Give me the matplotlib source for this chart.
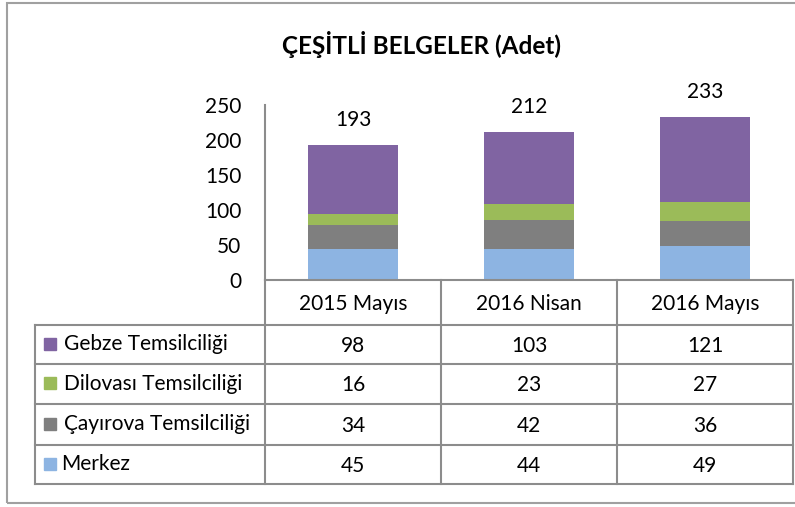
import matplotlib
matplotlib.use("Agg")
import matplotlib.pyplot as plt
from matplotlib.patches import Rectangle
import numpy as np

plt.rcParams['font.family'] = ['Lato', 'DejaVu Sans']

categories = ["2015 Mayıs", "2016 Nisan", "2016 Mayıs"]
series_names = ["Merkez", "Çayırova Temsilciliği", "Dilovası Temsilciliği", "Gebze Temsilciliği"]
merkez = [45, 44, 49]
cayirova = [34, 42, 36]
dilovasi = [16, 23, 27]
gebze = [98, 103, 121]
totals = [193, 212, 233]
colors = ["#8DB4E2", "#7F7F7F", "#9BBB59", "#8064A2"]
title = "ÇEŞİTLİ BELGELER (Adet)"
yticks = [0, 50, 100, 150, 200, 250]

W, H = 795, 507
fig = plt.figure(figsize=(W / 100, H / 100), dpi=100)

def fx(x):
    return x / W

def fy(y):
    return 1 - y / H

grid = "#8C8C8C"
FS = 15

# outer frame
fig.patches.append(Rectangle((fx(7), fy(503)), fx(800) - fx(7), fy(3) - fy(503),
                             transform=fig.transFigure, fill=False, edgecolor="#A0A0A0", lw=1.5))

# main axes
ax = fig.add_axes([fx(265), fy(280), fx(793) - fx(265), fy(105) - fy(280)])
x = np.arange(len(categories))
series = [merkez, cayirova, dilovasi, gebze]
bottom = np.zeros(len(categories))
for vals, col in zip(series, colors):
    ax.bar(x, vals, bottom=bottom, width=0.51, color=col, edgecolor="none")
    bottom += np.array(vals)
for xi, t in zip(x, totals):
    ax.annotate(str(t), (xi, t), xytext=(0, 18), textcoords="offset points",
                ha="center", va="center", fontsize=FS)
ax.set_xlim(-0.5, 2.5)
ax.set_ylim(0, 250)
ax.set_yticks(yticks)
ax.set_yticklabels([str(v) for v in yticks], fontsize=FS)
ax.tick_params(axis="y", length=0, pad=17)
ax.set_xticks([])
for s in ["top", "right", "bottom"]:
    ax.spines[s].set_visible(False)
ax.spines["left"].set_color(grid)
ax.spines["left"].set_linewidth(1.5)

# table axes
tax = fig.add_axes([fx(35), fy(484), fx(793) - fx(35), fy(280) - fy(484)])
tax.set_xlim(35, 793)
tax.set_ylim(484, 280)
tax.axis("off")
col_edges = [35, 265, 441, 617, 793]
row_edges = [280, 325, 364, 404, 445, 484]
lk = dict(color=grid, lw=1.5, clip_on=False)
tax.plot([265, 793], [280, 280], **lk)
for yy in row_edges[1:]:
    tax.plot([35, 793], [yy, yy], **lk)
for xx in col_edges[1:]:
    tax.plot([xx, xx], [280, 484], **lk)
tax.plot([35, 35], [325, 484], **lk)

for i, c in enumerate(categories):
    cx = (col_edges[i + 1] + col_edges[i + 2]) / 2
    tax.text(cx, (row_edges[0] + row_edges[1]) / 2 + 2, c, ha="center", va="center", fontsize=FS)

table_order = [3, 2, 1, 0]
for r, si in enumerate(table_order):
    cy = (row_edges[r + 1] + row_edges[r + 2]) / 2
    tax.add_patch(Rectangle((44, cy - 7), 12, 12, color=colors[si], clip_on=False))
    tax.text(64 if si != 0 else 61, cy, series_names[si], ha="left", va="center", fontsize=FS)
    for i in range(len(categories)):
        cx = (col_edges[i + 1] + col_edges[i + 2]) / 2
        tax.text(cx, cy + 1, str(series[si][i]), ha="center", va="center", fontsize=FS)

fig.text(fx(421), fy(45), title, ha="center", va="center", fontsize=17.5, fontweight="bold")

fig.savefig("out.png", dpi=100)
